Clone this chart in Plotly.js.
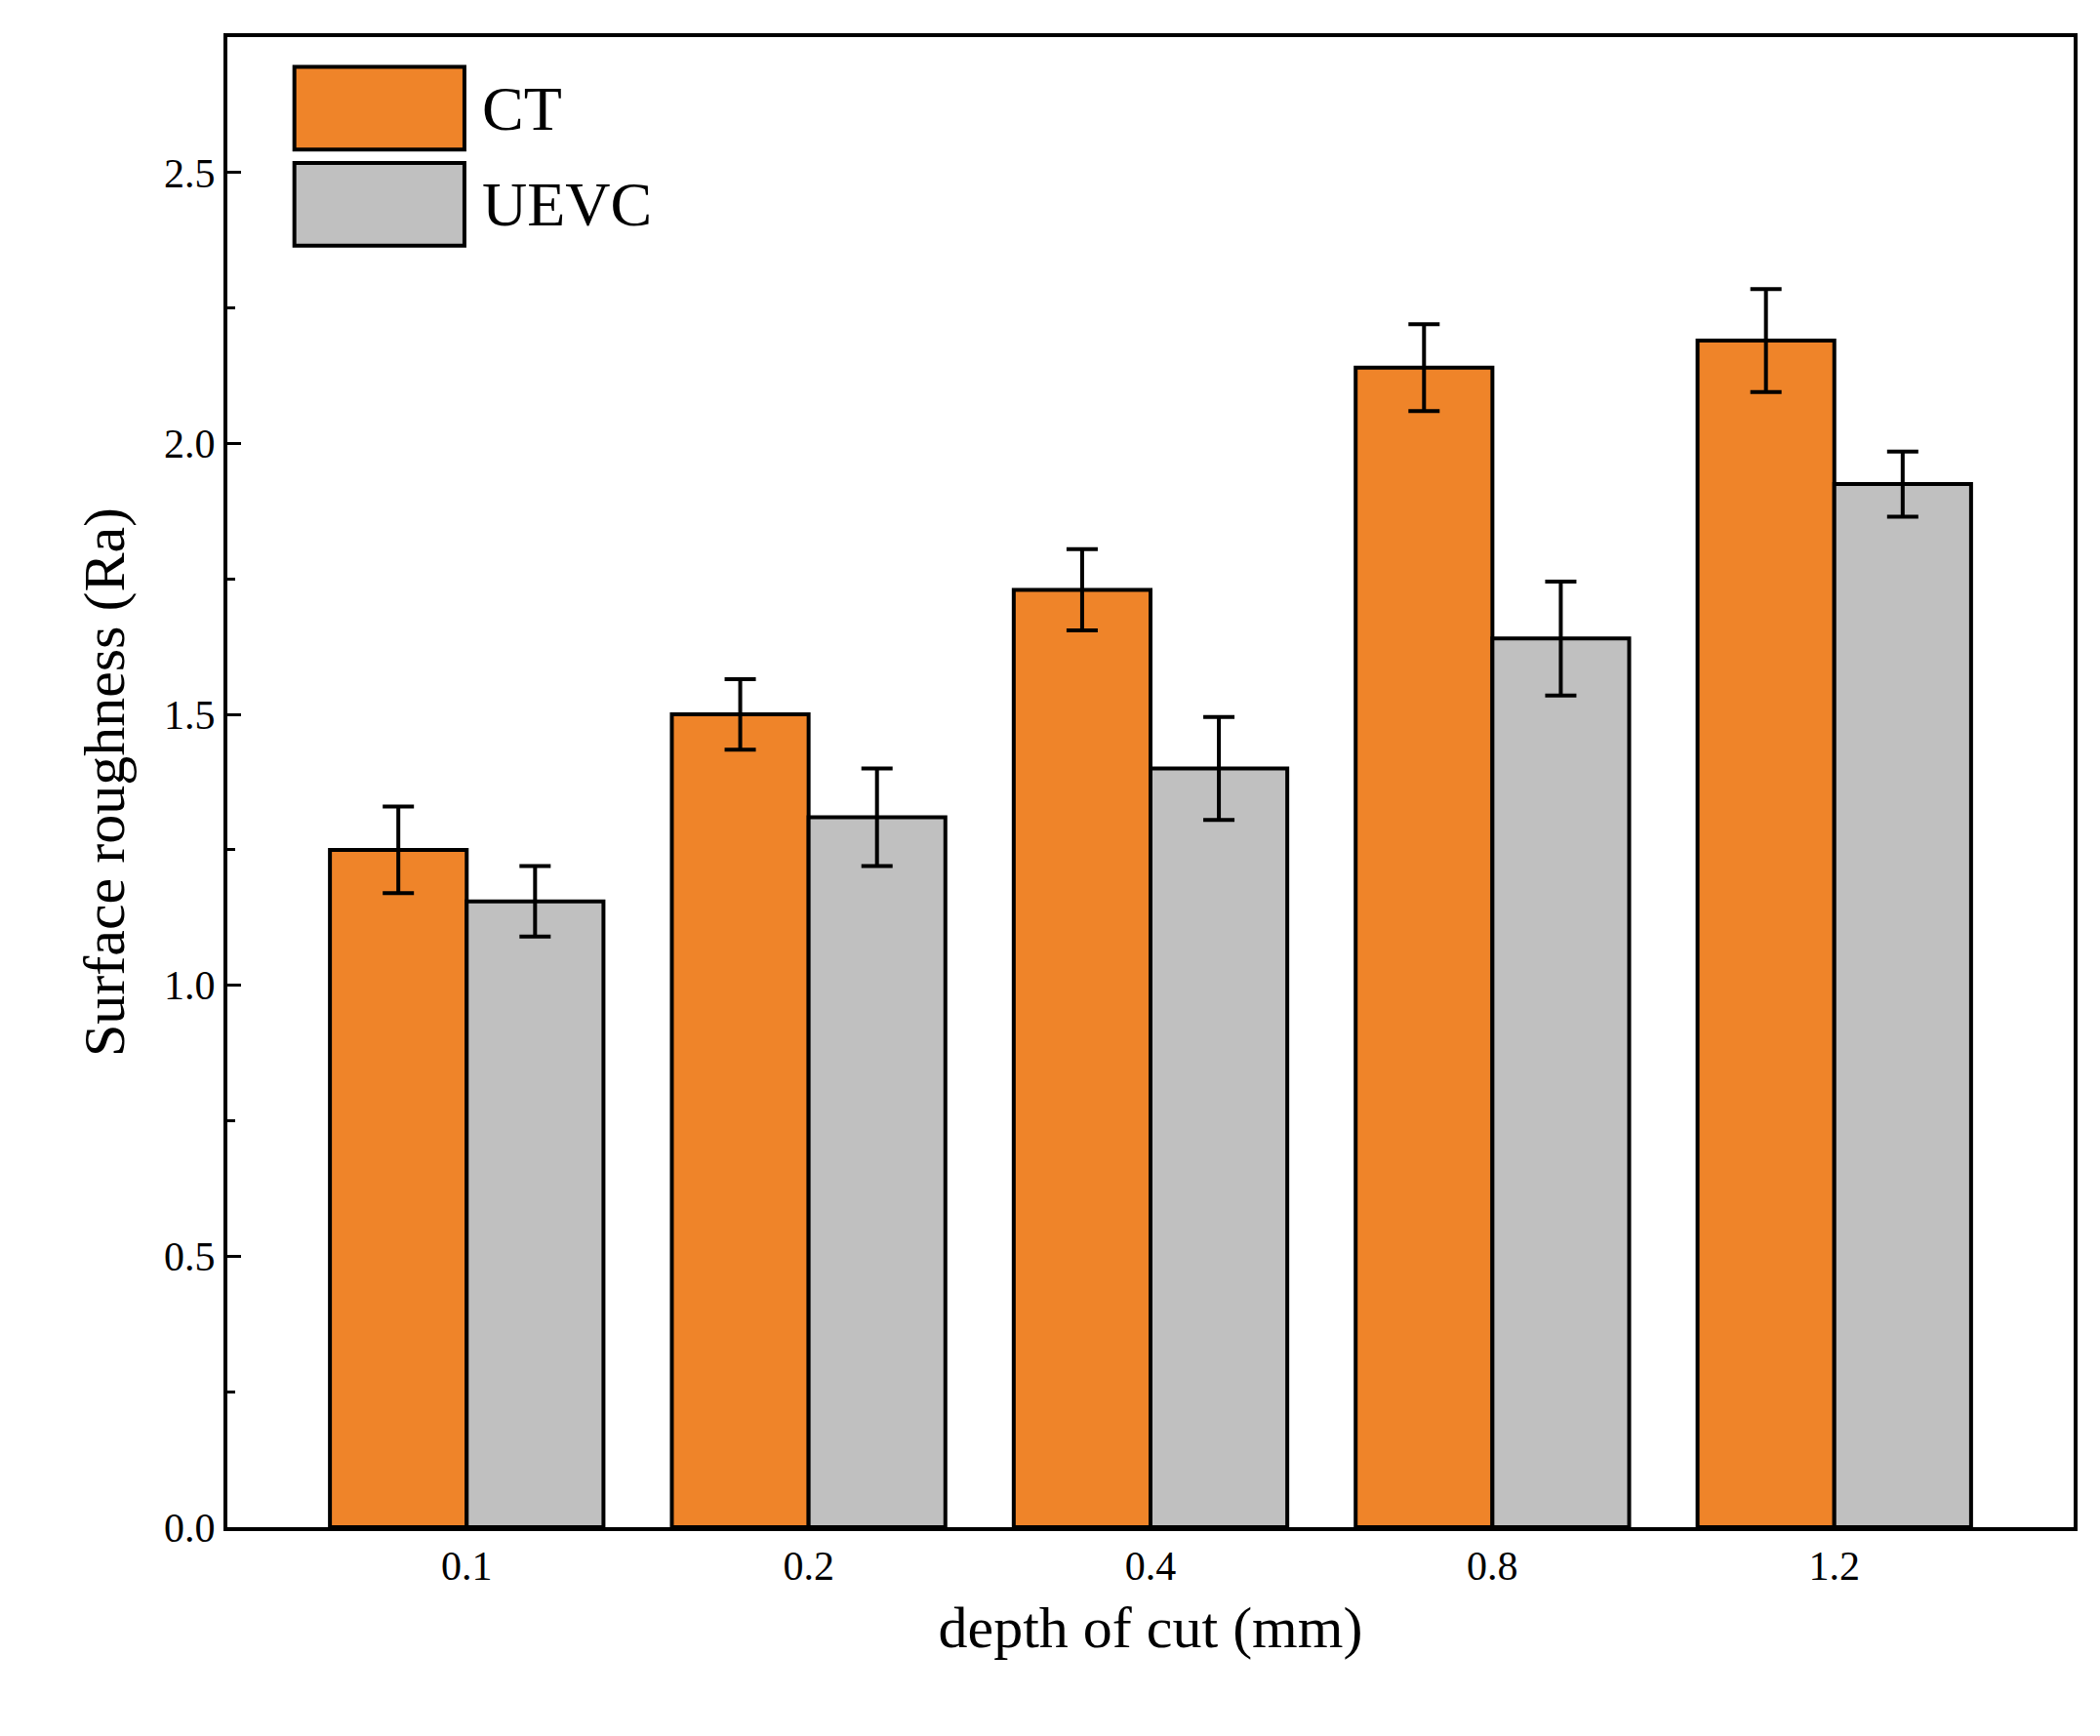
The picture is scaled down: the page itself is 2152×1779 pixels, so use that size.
<!DOCTYPE html>
<html><head><script src="https://cdn.plot.ly/plotly-3.0.1.min.js"></script></head>
<body style="margin:0">
<div id="chart" style="width:2152px;height:1779px"></div>
<script>
var depths = ["0.1", "0.2", "0.4", "0.8", "1.2"];
var ctValues = [1.25, 1.50, 1.73, 2.14, 2.19];
var ctErrors = [0.08, 0.065, 0.075, 0.08, 0.095];
var uevcValues = [1.155, 1.31, 1.40, 1.64, 1.925];
var uevcErrors = [0.065, 0.09, 0.095, 0.105, 0.06];

var font = "Liberation Serif, Times New Roman, serif";
var errStyle = { type: "data", visible: true, thickness: 4, width: 16, color: "black" };

var data = [
  { type: "bar", name: "CT", x: depths, y: ctValues,
    error_y: Object.assign({ array: ctErrors }, errStyle),
    marker: { color: "#EF8429", line: { color: "black", width: 4 } } },
  { type: "bar", name: "UEVC", x: depths, y: uevcValues,
    error_y: Object.assign({ array: uevcErrors }, errStyle),
    marker: { color: "#C0C0C0", line: { color: "black", width: 4 } } }
];

var layout = {
  width: 2152, height: 1779,
  margin: { l: 233, r: 27, t: 38, b: 214 },
  paper_bgcolor: "white", plot_bgcolor: "white",
  font: { family: font, color: "black", size: 42 },
  barmode: "group", bargap: 0.2, bargroupgap: 0,
  showlegend: false,
  xaxis: {
    type: "category", range: [-0.7, 4.7],
    showline: true, linewidth: 4, linecolor: "black", mirror: true,
    ticks: "", tickfont: { size: 42 },
    title: { text: "depth of cut (mm)", font: { size: 60 }, standoff: 20 }
  },
  yaxis: {
    range: [0, 2.75], dtick: 0.5, tickformat: ".1f",
    showline: true, linewidth: 4, linecolor: "black", mirror: true,
    showgrid: false, zeroline: false,
    ticks: "inside", ticklen: 14, tickwidth: 3, tickcolor: "black",
    minor: { dtick: 0.25, ticks: "inside", ticklen: 8, tickwidth: 3, tickcolor: "black" },
    tickfont: { size: 42 },
    title: { text: "Surface roughness (Ra)", font: { size: 60 }, standoff: 22 }
  },
  shapes: [
    { type: "rect", xref: "paper", yref: "paper", x0: 0.0363, x1: 0.1284, y0: 0.9245, y1: 0.980,
      fillcolor: "#EF8429", line: { color: "black", width: 4 } },
    { type: "rect", xref: "paper", yref: "paper", x0: 0.0363, x1: 0.1284, y0: 0.860, y1: 0.9155,
      fillcolor: "#C0C0C0", line: { color: "black", width: 4 } }
  ],
  annotations: [
    { xref: "paper", yref: "paper", x: 0.137, y: 0.952, xanchor: "left", yanchor: "middle",
      text: "CT", showarrow: false, font: { size: 64 } },
    { xref: "paper", yref: "paper", x: 0.137, y: 0.888, xanchor: "left", yanchor: "middle",
      text: "UEVC", showarrow: false, font: { size: 64 } }
  ]
};

Plotly.newPlot("chart", data, layout, { displayModeBar: false });
</script>
</body></html>
